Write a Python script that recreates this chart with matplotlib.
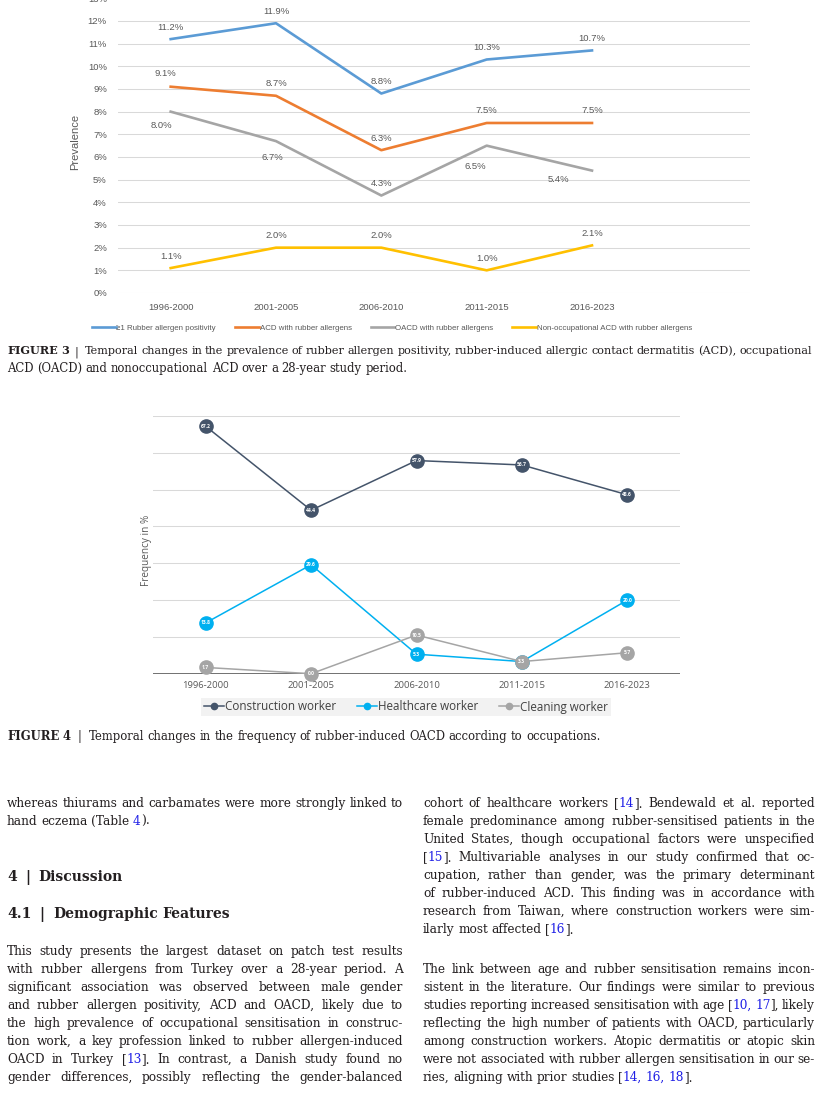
import re
import numpy as np
import matplotlib.pyplot as plt
from matplotlib import font_manager as fm
from matplotlib.lines import Line2D

W, H = 819, 1102

# ---- data: figure 3 ----
periods = ["1996-2000", "2001-2005", "2006-2010", "2011-2015", "2016-2023"]
rubber_pos = [11.2, 11.9, 8.8, 10.3, 10.7]
acd_rubber = [9.1, 8.7, 6.3, 7.5, 7.5]
oacd_rubber = [8.0, 6.7, 4.3, 6.5, 5.4]
nonocc_acd = [1.1, 2.0, 2.0, 1.0, 2.1]
fig3_names = ["≥1 Rubber allergen positivity", "ACD with rubber allergens",
              "OACD with rubber allergens", "Non-occupational ACD with rubber allergens"]

# ---- data: figure 4 ----
construction = [67.2, 44.4, 57.9, 56.7, 48.6]
healthcare = [13.8, 29.6, 5.3, 3.3, 20.0]
cleaning = [1.7, 0.0, 10.5, 3.3, 5.7]
fig4_names = ["Construction worker", "Healthcare worker", "Cleaning worker"]

# ---- fonts ----
installed = {f.name for f in fm.fontManager.ttflist}
SANS = "Liberation Sans Narrow" if "Liberation Sans Narrow" in installed else "Liberation Sans"
SEGOE = "Open Sans" if "Open Sans" in installed else "DejaVu Sans"
BODY = "DejaVu Serif"
GREY = "#595959"
TXT = "#231F20"
BLUE = "#1F1FE6"

fig = plt.figure(figsize=(W / 100, H / 100), dpi=100)
fig.patch.set_facecolor("white")

# ================= Figure 3 chart =================
ax1 = fig.add_axes([118 / W, 1 - 293 / H, 632 / W, 294.7 / H])
x1 = np.arange(len(periods))
cols3 = ["#5B9BD5", "#ED7D31", "#A5A5A5", "#FFC000"]
# label offsets in pixels (dx, dy)
offs3 = [
    [(0, 12)] * 5,
    [(-5, 13), (0, 12), (0, 12), (0, 12), (0, 12)],
    [(-9, -14), (-4, -16), (0, 12), (-11, -21), (-34, -9)],
    [(0, 12)] * 5,
]
for vals, col, name, offs in zip([rubber_pos, acd_rubber, oacd_rubber, nonocc_acd],
                                 cols3, fig3_names, offs3):
    ax1.plot(x1, vals, color=col, lw=1.9, label=name, zorder=3)
    for xi, v, (dx, dy) in zip(x1, vals, offs):
        ax1.annotate(f"{v:.1f}%", (xi, v), xytext=(dx, dy), textcoords="offset pixels",
                     ha="center", va="center", fontsize=6.8, color=GREY, family=SANS)
ax1.set_xlim(-0.5, 5.5)
ax1.set_ylim(0, 13)
ax1.set_yticks(range(14))
ax1.set_yticklabels([f"{i}%" for i in range(14)], fontsize=6.8, color=GREY, family=SANS)
ax1.set_xticks(x1)
ax1.set_xticklabels(periods, fontsize=6.8, color=GREY, family=SANS)
ax1.tick_params(length=0)
ax1.tick_params(axis="y", pad=8)
ax1.tick_params(axis="x", pad=7)
ax1.grid(axis="y", color="#D9D9D9", lw=0.75)
ax1.set_axisbelow(True)
for s in ax1.spines.values():
    s.set_visible(False)
fig.text(75 / W, 1 - 142 / H, "Prevalence", rotation=90, ha="center", va="center",
         fontsize=8, color=GREY, family=SANS)
fig.legend(*ax1.get_legend_handles_labels(), loc="center", bbox_to_anchor=(392 / W, 1 - 328 / H),
           ncol=4, frameon=False, prop={"family": [SANS, "DejaVu Sans"], "size": 5.7},
           handlelength=3.0, handletextpad=0.1, columnspacing=2.4, labelcolor=GREY)

# ================= Figure 4 chart =================
ax2 = fig.add_axes([153 / W, 1 - 673.7 / H, 527 / W, 257.7 / H])
x2 = np.arange(len(periods))
cols4 = ["#44546A", "#00B0F0", "#A5A5A5"]
for k, (vals, col, name) in enumerate(zip([construction, healthcare, cleaning], cols4, fig4_names)):
    ax2.plot(x2, vals, color=col, lw=1.1, marker="o", ms=9.5, mec=col, label=name,
             clip_on=False, zorder=3 + 2 * k)
    for xi, v in zip(x2, vals):
        ax2.text(xi, v, f"{v:.1f}", ha="center", va="center", fontsize=3.6, color="white",
                 weight="bold", family=SEGOE, zorder=4 + 2 * k)
ax2.set_xlim(-0.5, 4.5)
ax2.set_ylim(0, 70)
ax2.set_yticks(range(0, 71, 10))
ax2.set_yticklabels([])
ax2.set_xticks(x2)
ax2.set_xticklabels(periods, fontsize=6.8, color=GREY, family=SEGOE)
ax2.tick_params(length=0)
ax2.tick_params(axis="x", pad=5)
ax2.grid(axis="y", color="#D9D9D9", lw=0.75)
ax2.set_axisbelow(True)
for s in ax2.spines.values():
    s.set_visible(False)
ax2.axhline(0, color="#595959", lw=1.2, zorder=2)
fig.text(146 / W, 1 - 550 / H, "Frequency in %", rotation=90, ha="center", va="center",
         fontsize=7.2, color=GREY, family=SEGOE)
h4 = [Line2D([], [], color=c, lw=1.1, marker="o", ms=4.5) for c in cols4]
fig.legend(h4, fig4_names, loc="center", bbox_to_anchor=(406 / W, 1 - 707 / H), ncol=3,
           frameon=True, facecolor="#F2F2F2", edgecolor="none", fancybox=False, framealpha=1,
           prop={"family": SEGOE, "size": 8.4}, labelcolor="#404040",
           handlelength=1.7, handletextpad=0.1, columnspacing=1.8, borderpad=0.25)

# ================= text =================
renderer = fig.canvas.get_renderer()


def segments(word, weight):
    out = []
    for m in re.finditer(r"\{([^}]*)\}|\*([^*]*)\*|([^{*]+)", word):
        if m.group(1) is not None:
            out.append((m.group(1), BLUE, weight))
        elif m.group(2) is not None:
            out.append((m.group(2), TXT, "bold"))
        else:
            out.append((m.group(3), TXT, weight))
    return out


def draw_line(line, x0, x1, yb, size, justify, weight="normal", min_gap=0.24):
    words = []
    total = 0.0
    for w in line.split(" "):
        items = []
        for s, c, wt in segments(w, weight):
            t = fig.text(0, 0, s, fontsize=size, color=c, weight=wt, family=BODY, va="baseline")
            wd = t.get_window_extent(renderer).width
            items.append((t, wd))
            total += wd
        words.append(items)
    em = size * 100 / 72
    n = len(words)
    if justify and n > 1:
        gap = (x1 - x0 - total) / (n - 1)
        if gap < min_gap * em:
            # line too long for this size: shrink it a little and redo
            for items in words:
                for t, _ in items:
                    t.remove()
            new = size * (x1 - x0) / (total + min_gap * em * (n - 1)) * 0.995
            return draw_line(line, x0, x1, yb, new, justify, weight, min_gap)
    else:
        gap = 0.3 * em
    x = x0
    for items in words:
        for t, wd in items:
            t.set_position((x / W, 1 - yb / H))
            x += wd
        x += gap


# captions
cap_size = 8.4
draw_line("*FIGURE* *3*  |  Temporal changes in the prevalence of rubber allergen positivity, "
          "rubber-induced allergic contact dermatitis (ACD), occupational", 7, 812, 354, cap_size, True)
draw_line("ACD (OACD) and nonoccupational ACD over a 28-year study period.", 7, 812, 372, cap_size, False)
draw_line("*FIGURE* *4*  |  Temporal changes in the frequency of rubber-induced OACD according to occupations.",
          7, 812, 740, cap_size, False)

left_lines = [
    (803, "whereas thiurams and carbamates were more strongly linked to", True),
    (821, "hand eczema (Table {4}).", False),
    (951, "This study presents the largest dataset on patch test results", True),
    (969, "with rubber allergens from Turkey over a 28-year period. A", True),
    (987, "significant association was observed between male gender", True),
    (1005, "and rubber allergen positivity, ACD and OACD, likely due to", True),
    (1023, "the high prevalence of occupational sensitisation in construc-", True),
    (1041, "tion work, a key profession linked to rubber allergen-induced", True),
    (1059, "OACD in Turkey [{13}]. In contrast, a Danish study found no", True),
    (1077, "gender differences, possibly reflecting the gender-balanced", True),
]
right_lines = [
    (803, "cohort of healthcare workers [{14}]. Bendewald et al. reported", True),
    (821, "female predominance among rubber-sensitised patients in the", True),
    (839, "United States, though occupational factors were unspecified", True),
    (857, "[{15}]. Multivariable analyses in our study confirmed that oc-", True),
    (875, "cupation, rather than gender, was the primary determinant", True),
    (893, "of rubber-induced ACD. This finding was in accordance with", True),
    (911, "research from Taiwan, where construction workers were sim-", True),
    (929, "ilarly most affected [{16}].", False),
    (969, "The link between age and rubber sensitisation remains incon-", True),
    (987, "sistent in the literature. Our findings were similar to previous", True),
    (1005, "studies reporting increased sensitisation with age [{10,} {17}], likely", True),
    (1023, "reflecting the high number of patients with OACD, particularly", True),
    (1041, "among construction workers. Atopic dermatitis or atopic skin", True),
    (1059, "were not associated with rubber allergen sensitisation in our se-", True),
    (1077, "ries, aligning with prior studies [{14,} {16,} {18}].", False),
]
body_size = 8.7
for y, s, j in left_lines:
    draw_line(s, 7, 403, y + 4, body_size, j)
for y, s, j in right_lines:
    draw_line(s, 423, 815, y + 4, body_size, j)

draw_line("4  |  Discussion", 7, 403, 881, 10.0, False, weight="bold")
draw_line("4.1  |  Demographic Features", 7, 403, 918, 10.0, False, weight="bold")

fig.savefig("out.png", dpi=100)
